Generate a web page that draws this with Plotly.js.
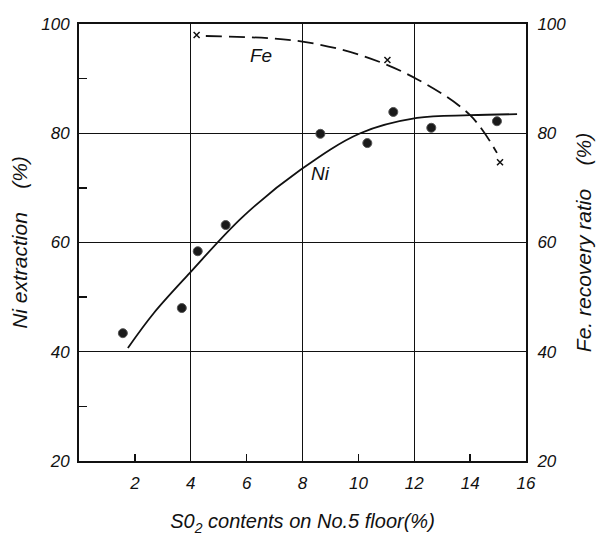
<!DOCTYPE html>
<html><head><meta charset="utf-8">
<script src="https://cdn.plot.ly/plotly-3.0.1.min.js"></script>
<style>html,body{margin:0;padding:0;background:#fff;}#c{width:599px;height:541px;}</style>
</head><body><div id="c"></div>
<script>
// Ni extraction measured points
const niX = [1.57, 3.68, 4.25, 5.25, 8.64, 10.32, 11.25, 12.61, 14.96];
const niY = [43.4, 48.0, 58.4, 63.2, 79.9, 78.2, 83.9, 81.0, 82.2];
// Ni fitted curve
const niCurveX = [1.75, 2.68, 3.96, 5.86, 7.93, 10.07, 12.1, 14.0, 15.68];
const niCurveY = [40.7, 47.1, 54.4, 64.7, 73.3, 80.0, 82.8, 83.3, 83.5];
// Fe recovery measured points
const feX = [4.21, 11.04, 15.07];
const feY = [98.0, 93.4, 74.7];
// Fe fitted curve
const feCurveX = [4.54, 7.82, 10.07, 12.1, 14.0, 14.96];
const feCurveY = [97.8, 96.9, 94.3, 89.9, 83.3, 76.4];
// tick labels
const xTicks = [2, 4, 6, 8, 10, 12, 14, 16];
const xGrid = [4, 8, 12];
const xMinor = [2, 6, 10, 14];
const yTicks = [20, 40, 60, 80, 100];
const yMinor = [30, 50, 70, 90];
const labels = {fe: 'Fe', ni: 'Ni'};

const FONT = 'Liberation Sans, DejaVu Sans, sans-serif';
const tickFont = {family: FONT, size: 17, color: '#111', style: 'italic'};

const traces = [
  {x: niCurveX, y: niCurveY, mode: 'lines', line: {color: '#111', width: 1.8, shape: 'spline', smoothing: 1}, xaxis: 'x', yaxis: 'y', hoverinfo: 'skip'},
  {x: niX, y: niY, mode: 'markers', marker: {color: '#1a1a1a', size: 9, line: {color: '#555', width: 1}}, xaxis: 'x', yaxis: 'y'},
  {x: feCurveX, y: feCurveY, mode: 'lines', line: {color: '#111', width: 1.8, dash: '16px,7px', shape: 'spline', smoothing: 1}, xaxis: 'x2', yaxis: 'y2', hoverinfo: 'skip'},
  {x: feX, y: feY, mode: 'markers', marker: {symbol: 'x-thin', color: '#111', size: 6, line: {color: '#111', width: 1.5}}, xaxis: 'x2', yaxis: 'y2'}
];

const layout = {
  width: 599, height: 541,
  margin: {l: 79, r: 73, t: 24, b: 80},
  paper_bgcolor: '#fff', plot_bgcolor: '#fff',
  showlegend: false,
  xaxis: {
    range: [0, 16], tickvals: xTicks, ticks: '', showgrid: false, zeroline: false,
    showline: true, linecolor: '#111', linewidth: 2, mirror: true,
    tickfont: tickFont, ticklabelstandoff: 6,
    title: {text: 'S0<sub>2</sub> contents on No.5 floor(%)', font: {family: FONT, size: 20, color: '#111', style: 'italic'}, standoff: 22}
  },
  xaxis2: {
    range: [0, 16], overlaying: 'x', matches: 'x', anchor: 'y', side: 'bottom',
    tickvals: xGrid, showgrid: true, gridcolor: '#111', gridwidth: 1.3, ticks: '', showticklabels: false,
    zeroline: false, showline: false,
    minor: {tickvals: xMinor, ticks: 'inside', ticklen: 7, tickcolor: '#111', tickwidth: 1.3, showgrid: false}
  },
  yaxis: {
    range: [20, 100], tickvals: yTicks, ticks: '', showgrid: true, gridcolor: '#111', gridwidth: 1.3,
    zeroline: false, showline: true, linecolor: '#111', linewidth: 2,
    tickfont: tickFont, ticklabelstandoff: 4,
    minor: {tickvals: yMinor, ticks: 'inside', ticklen: 8, tickcolor: '#111', tickwidth: 1.3, showgrid: false},
    title: {text: 'Ni extraction    (%)', font: {family: FONT, size: 21, color: '#111', style: 'italic'}, standoff: 8}
  },
  yaxis2: {
    range: [20, 100], overlaying: 'y', side: 'right', anchor: 'x', tickvals: yTicks, ticks: '',
    showgrid: false, zeroline: false, showline: true, linecolor: '#111', linewidth: 2,
    tickfont: tickFont, ticklabelstandoff: 6,
    title: {text: 'Fe. recovery ratio    (%)', font: {family: FONT, size: 21, color: '#111', style: 'italic'}, standoff: 11}
  },
  annotations: [
    {x: 6.5, y: 94.2, xref: 'x', yref: 'y', text: labels.fe, showarrow: false, font: {family: FONT, size: 19, color: '#111', style: 'italic'}},
    {x: 8.64, y: 72.7, xref: 'x', yref: 'y', text: labels.ni, showarrow: false, font: {family: FONT, size: 19, color: '#111', style: 'italic'}}
  ]
};

Plotly.newPlot('c', traces, layout, {displayModeBar: false, staticPlot: true});
</script>
</body></html>
